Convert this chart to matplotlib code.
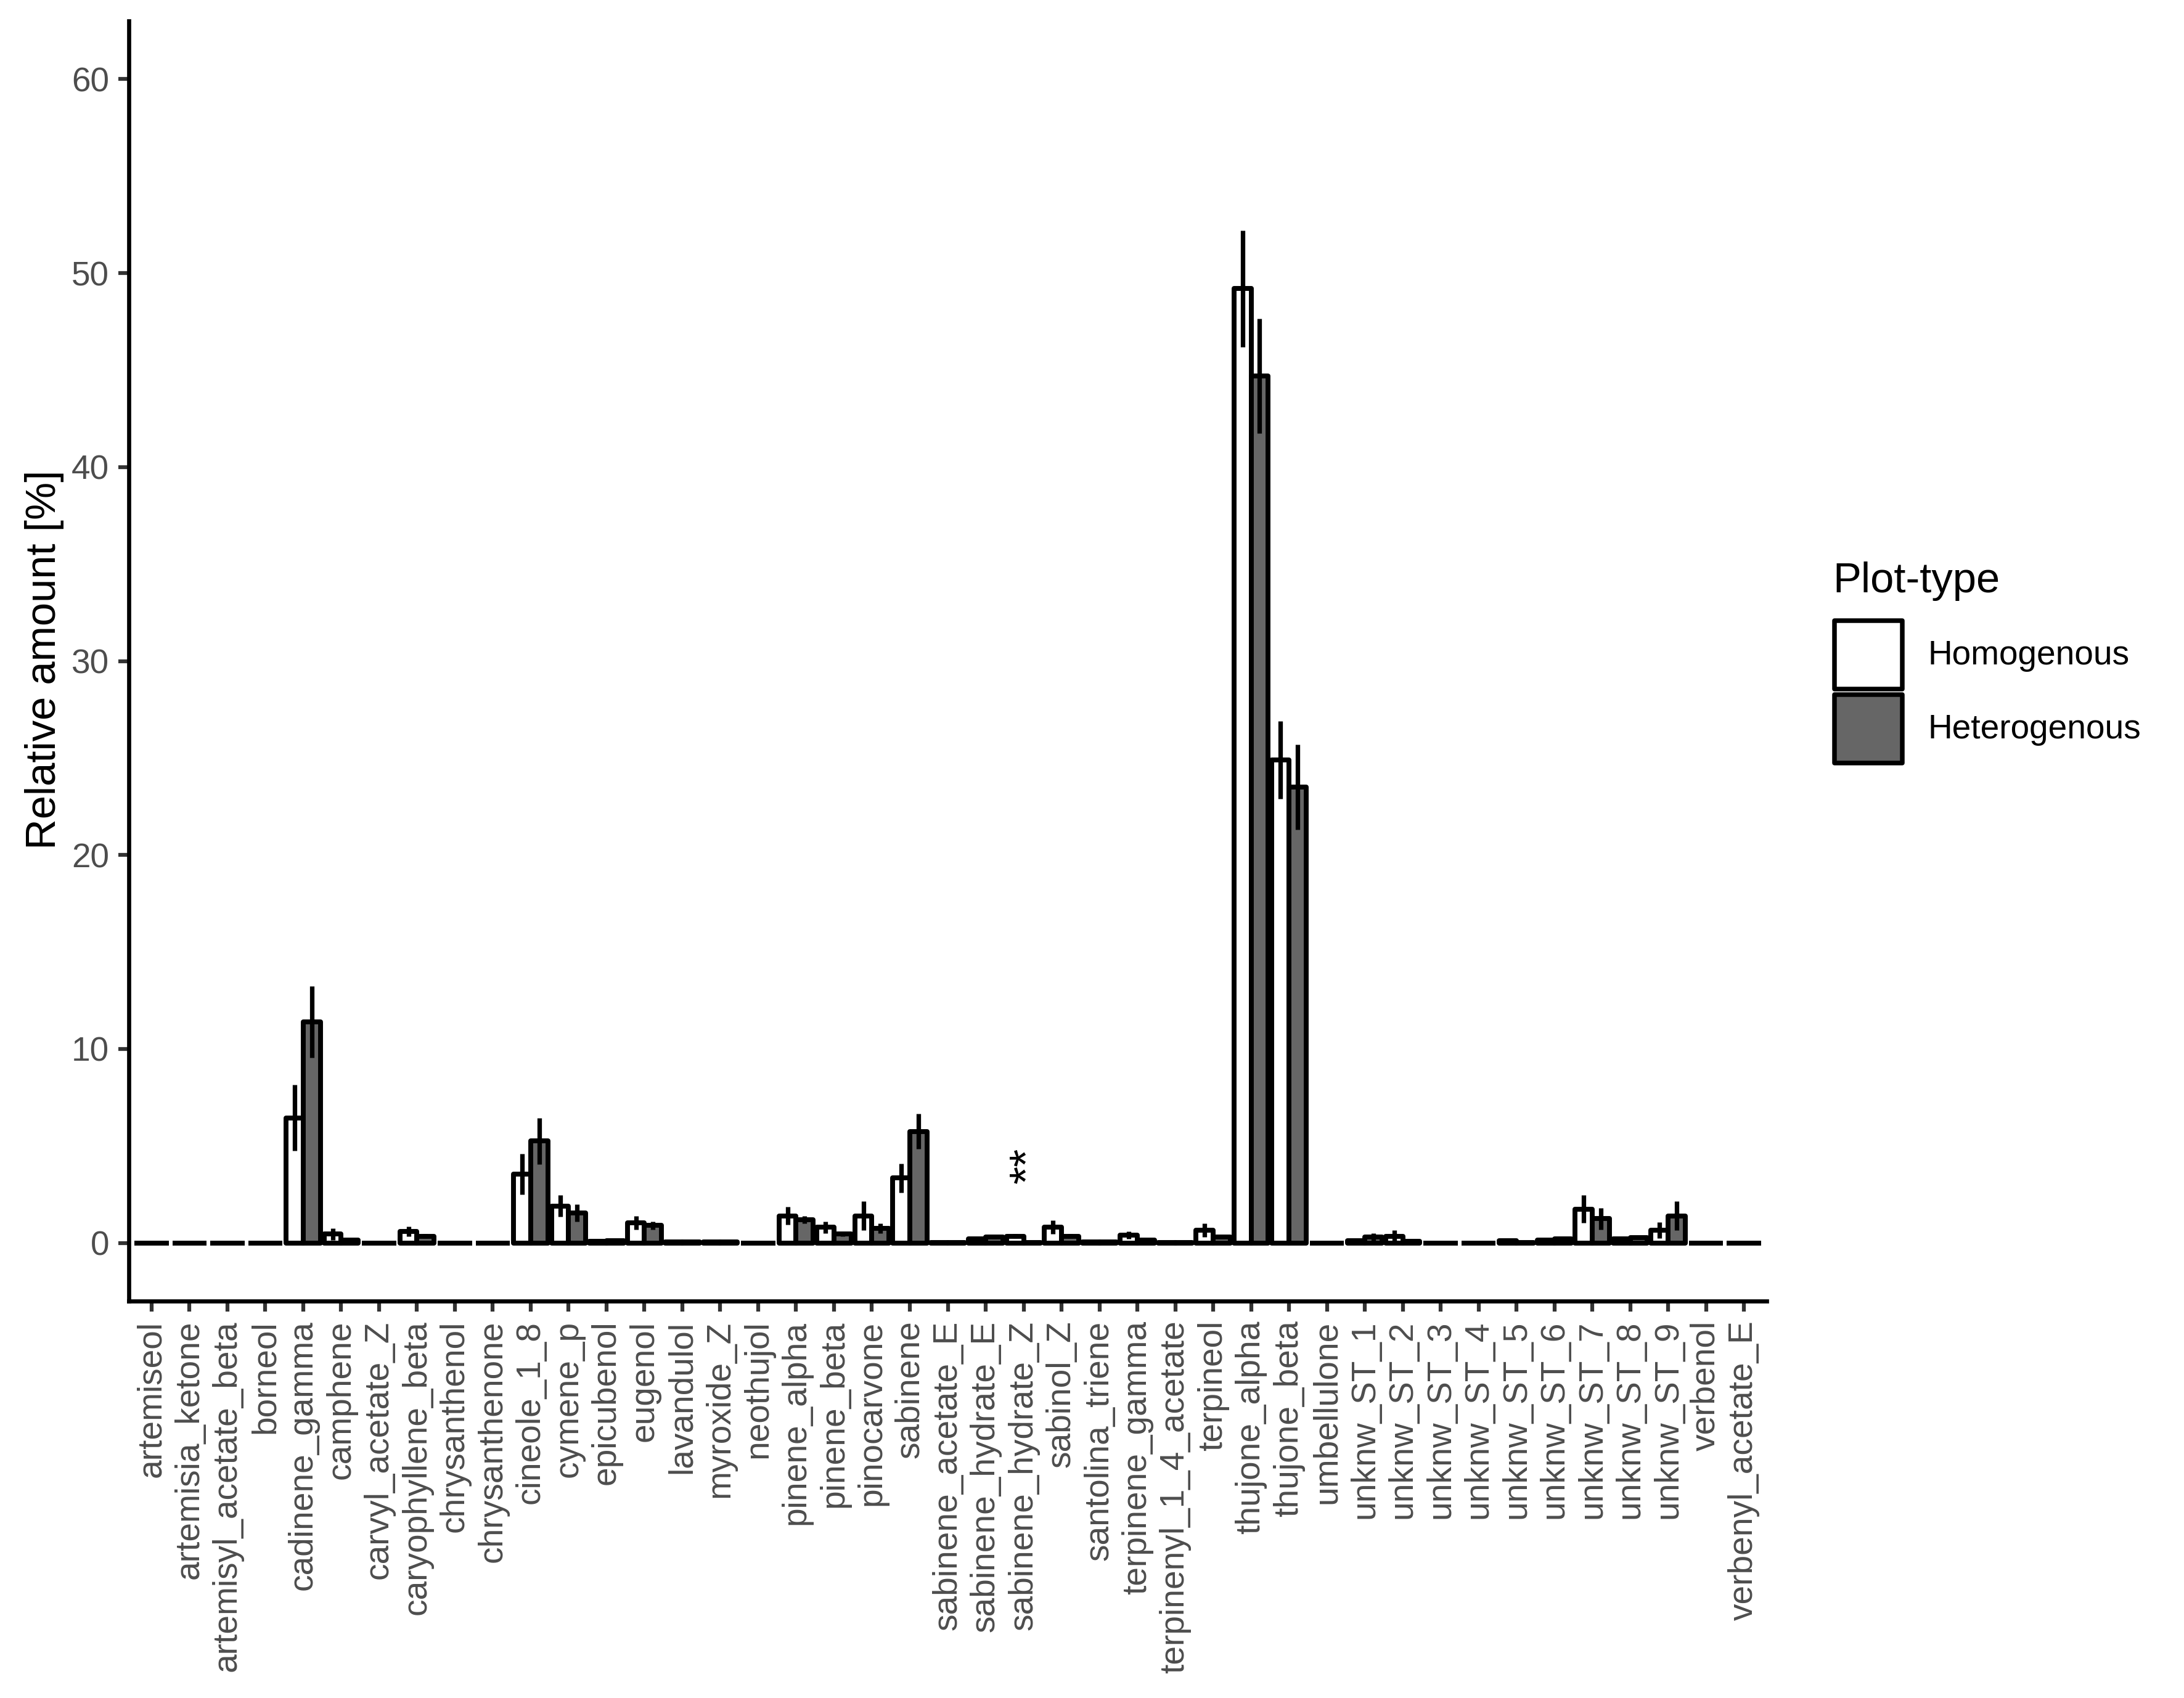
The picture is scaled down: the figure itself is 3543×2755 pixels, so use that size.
import numpy as np
import matplotlib
matplotlib.use("Agg")
import matplotlib.pyplot as plt
from matplotlib.patches import Rectangle

plt.rcParams['font.family'] = ['Liberation Sans', 'DejaVu Sans']

categories = [
    "artemiseol", "artemisia_ketone", "artemisyl_acetate_beta", "borneol",
    "cadinene_gamma", "camphene", "carvyl_acetate_Z", "caryophyllene_beta",
    "chrysanthenol", "chrysanthenone", "cineole_1_8", "cymene_p", "epicubenol",
    "eugenol", "lavandulol", "myroxide_Z", "neothujol", "pinene_alpha",
    "pinene_beta", "pinocarvone", "sabinene", "sabinene_acetate_E",
    "sabinene_hydrate_E", "sabinene_hydrate_Z", "sabinol_Z", "santolina_triene",
    "terpinene_gamma", "terpinenyl_1_4_acetate", "terpineol", "thujone_alpha",
    "thujone_beta", "umbellulone", "unknw_ST_1", "unknw_ST_2", "unknw_ST_3",
    "unknw_ST_4", "unknw_ST_5", "unknw_ST_6", "unknw_ST_7", "unknw_ST_8",
    "unknw_ST_9", "verbenol", "verbenyl_acetate_E",
]

series_names = ["Homogenous", "Heterogenous"]

hom_mean = [0, 0, 0, 0, 6.45, 0.45, 0, 0.6, 0, 0, 3.55, 1.9, 0.08, 1.05, 0.05,
            0.06, 0, 1.4, 0.8, 1.4, 3.35, 0.02, 0.2, 0.35, 0.8, 0.05, 0.4, 0.03,
            0.65, 49.2, 24.9, 0, 0.1, 0.35, 0, 0, 0.1, 0.15, 1.75, 0.2, 0.65, 0, 0]
hom_err = [0, 0, 0, 0, 1.7, 0.3, 0, 0.25, 0, 0, 1.05, 0.55, 0.03, 0.35, 0.03,
           0.03, 0, 0.45, 0.3, 0.75, 0.75, 0.01, 0.08, 0.12, 0.35, 0.02, 0.2, 0.02,
           0.35, 3.0, 2.0, 0, 0.05, 0.3, 0, 0, 0.05, 0.08, 0.7, 0.08, 0.42, 0, 0]
het_mean = [0, 0, 0, 0, 11.4, 0.15, 0, 0.35, 0, 0, 5.25, 1.55, 0.1, 0.9, 0.05,
            0.06, 0, 1.2, 0.45, 0.75, 5.75, 0.02, 0.3, 0.03, 0.35, 0.05, 0.15, 0.02,
            0.3, 44.7, 23.5, 0, 0.3, 0.08, 0, 0, 0.03, 0.2, 1.25, 0.28, 1.4, 0, 0]
het_err = [0, 0, 0, 0, 1.85, 0.1, 0, 0.12, 0, 0, 1.2, 0.45, 0.04, 0.2, 0.03,
           0.03, 0, 0.2, 0.12, 0.25, 0.9, 0.01, 0.08, 0.02, 0.12, 0.02, 0.05, 0.01,
           0.1, 2.95, 2.2, 0, 0.2, 0.05, 0, 0, 0.02, 0.1, 0.55, 0.1, 0.75, 0, 0]

y_ticks = [0, 10, 20, 30, 40, 50, 60]
signif_label = "**"
signif_category = "sabinene_hydrate_Z"
signif_y = 4.0

W, H = 3543, 2755
fig = plt.figure(figsize=(W / 300, H / 300), dpi=300)
left, right, top, bottom = 209, 2866, 34, 2111
ax = fig.add_axes([left / W, (H - bottom) / H, (right - left) / W, (bottom - top) / H])

x = np.arange(len(categories))
bw = 0.45
fills = ["white", "#666666"]
means = [hom_mean, het_mean]
errs = [hom_err, het_err]
offsets = [-bw / 2, bw / 2]
for m, e, off, fc in zip(means, errs, offsets, fills):
    m = np.array(m, dtype=float)
    e = np.array(e, dtype=float)
    ax.bar(x + off, m, width=bw, color=fc, edgecolor="black", linewidth=1.9,
           joinstyle="round", zorder=2)
    ax.vlines(x + off, m - e, m + e, colors="black", linewidth=1.75,
              capstyle="butt", zorder=3)

ax.annotate(signif_label, xy=(categories.index(signif_category), signif_y),
            xytext=(2, 0), textcoords="offset points", rotation=90,
            ha="center", va="center", fontsize=18, color="black")

ax.set_xlim(-0.6, len(categories) - 1 + 0.6)
ax.set_ylim(-3, 63)
ax.set_yticks(y_ticks)
ax.set_yticklabels([str(t) for t in y_ticks])
ax.set_xticks(x)
ax.set_xticklabels(categories, rotation=90, ha="center", va="top")

for s in ["top", "right"]:
    ax.spines[s].set_visible(False)
for s in ["left", "bottom"]:
    ax.spines[s].set_linewidth(1.6)
    ax.spines[s].set_color("black")
    ax.spines[s].set_capstyle("projecting")

ax.tick_params(axis="both", which="major", length=4.0, width=1.5, color="#333333",
               labelsize=13.2, labelcolor="#4D4D4D", pad=3.6)

# y-axis title
fig.text(72 / W, 1 - 1070 / H, "Relative amount [%]", rotation=90, ha="center",
         va="center", fontsize=16.5, color="black")

# legend
fig.text(2973 / W, 1 - 961 / H, "Plot-type", ha="left", va="baseline",
         fontsize=16.5, color="black")
key_boxes = [(1007, 1118), (1127, 1238)]
for (ky0, ky1), fc, name in zip(key_boxes, fills, series_names):
    r = Rectangle((2976 / W, 1 - ky1 / H), (3086 - 2976) / W, (ky1 - ky0) / H,
                  transform=fig.transFigure, facecolor=fc, edgecolor="black",
                  linewidth=1.8, joinstyle="round")
    fig.add_artist(r)
    fig.text(3127 / W, 1 - ((ky0 + ky1) / 2 + 2) / H, name, ha="left",
             va="center", fontsize=13.2, color="black")

fig.savefig("out.png", dpi=300, facecolor="white")
